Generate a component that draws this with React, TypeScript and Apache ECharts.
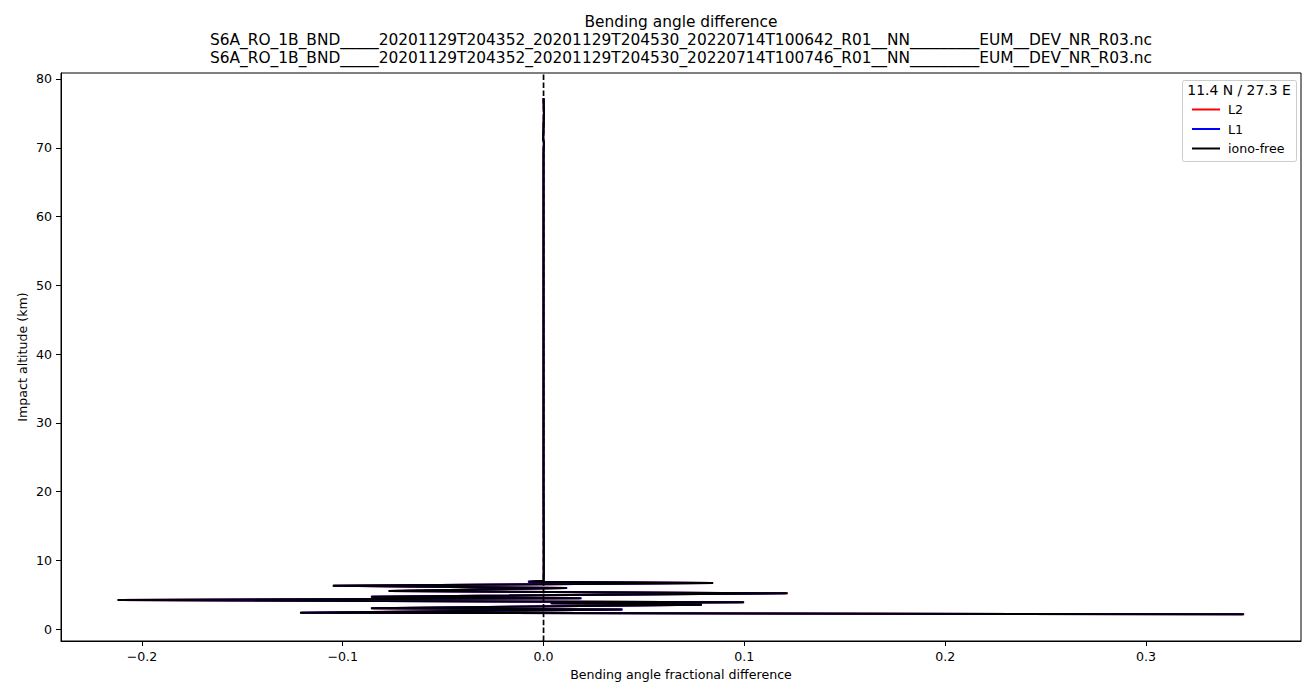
import React, { useEffect, useRef } from 'react';
import * as echarts from 'echarts';

const titleLines = [
  'Bending angle difference',
  'S6A_RO_1B_BND_____20201129T204352_20201129T204530_20220714T100642_R01__NN_________EUM__DEV_NR_R03.nc',
  'S6A_RO_1B_BND_____20201129T204352_20201129T204530_20220714T100746_R01__NN_________EUM__DEV_NR_R03.nc',
];
const legendTitle = '11.4 N / 27.3 E';
const seriesNames = ['L2', 'L1', 'iono-free'];
const seriesColors = ['#ff0000', '#0000ff', '#000000'];
const xTicks = [-0.2, -0.1, 0.0, 0.1, 0.2, 0.3];
const yTicks = [0, 10, 20, 30, 40, 50, 60, 70, 80];
const xLimits = [-0.2403, 0.3772];
const yLimits = [-1.7, 80.87];

const altitude = [77.2, 75.1, 73.0, 71.2, 70.8, 69.3, 60.0, 50.0, 40.0, 30.0, 20.0, 12.0, 8.0, 7.05, 6.92, 6.73, 6.34, 6.0, 5.57, 5.23, 4.74, 4.51, 4.26, 3.92, 3.78, 3.58, 3.05, 2.88, 2.41, 2.18];
const diffL2 = [0.0, 0.0002, 0.0, -0.0002, 0.0002, 0.0, 0.0, 0.0, 0.0, 0.0, 0.0, 0.0001, 0.0001, 0.0, -0.0074, 0.0843, -0.1048, 0.0112, -0.0771, 0.1214, -0.0858, 0.0183, -0.2118, 0.0997, 0.0036, 0.0787, -0.0858, 0.0389, -0.1211, 0.3486];
const diffL1 = [0.0, 0.0002, 0.0, -0.0002, 0.0002, 0.0, 0.0, 0.0, 0.0, 0.0, 0.0, 0.0001, 0.0001, 0.0, -0.0078, 0.0838, -0.1045, 0.0118, -0.0768, 0.1208, -0.0855, 0.0190, -0.2110, 0.0992, 0.0040, 0.0782, -0.0852, 0.0395, -0.1205, 0.3480];
const diffIonoFree = [0.0, 0.0002, 0.0, -0.0002, 0.0002, 0.0, 0.0, 0.0, 0.0, 0.0, 0.0, 0.0001, 0.0001, 0.0, -0.0075, 0.0845, -0.105, 0.0113, -0.0772, 0.1216, -0.086, 0.0184, -0.2122, 0.0999, 0.0035, 0.0789, -0.086, 0.039, -0.1213, 0.3489];

const FONT = 'DejaVu Sans';
const LABEL_SIZE = 12.6;

const fmtX = (v: number) => {
  const r = Math.round(v * 10) / 10;
  return r < 0 ? '\u2212' + Math.abs(r).toFixed(1) : r.toFixed(1);
};

export default function App() {
  const ref = useRef<HTMLDivElement>(null);
  useEffect(() => {
    if (!ref.current) return;
    const chart = echarts.init(ref.current, undefined, { renderer: 'svg' });
    const seriesData = [diffL2, diffL1, diffIonoFree];
    const lineSeries = seriesNames.map((name, i) => ({
      name,
      type: 'line',
      data: seriesData[i].map((x, k) => [x, altitude[k]]),
      symbol: 'none',
      showSymbol: false,
      lineStyle: { color: seriesColors[i], width: 2 },
      itemStyle: { color: seriesColors[i] },
      z: 2 + i,
      silent: true,
    }));
    const option: any = {
      animation: false,
      backgroundColor: '#ffffff',
      textStyle: { fontFamily: FONT },
      title: {
        text: titleLines.join('\n'),
        left: 681,
        top: 13,
        textAlign: 'center',
        padding: 0,
        textStyle: { fontFamily: FONT, fontSize: 15.4, fontWeight: 'normal', color: '#000', lineHeight: 18 },
      },
      grid: {
        left: 61,
        top: 73,
        width: 1240,
        height: 568,
        show: true,
        borderColor: '#000',
        borderWidth: 1,
        backgroundColor: 'transparent',
        containLabel: false,
        outerBoundsMode: 'none',
      },
      legend: {
        orient: 'vertical',
        left: 1192,
        top: 103,
        padding: 0,
        itemWidth: 28,
        itemHeight: 14,
        itemGap: 6.5,
        z: 20,
        data: seriesNames,
        icon: 'path://M0,6 L28,6 L28,8 L0,8 Z',
        textStyle: { fontFamily: FONT, fontSize: LABEL_SIZE, color: '#000', padding: [0, 0, 0, 3] },
        selectedMode: false,
      },
      xAxis: {
        type: 'value',
        min: xLimits[0],
        max: xLimits[1],
        name: 'Bending angle fractional difference',
        nameLocation: 'middle',
        nameGap: 27,
        nameMoveOverlap: false,
        nameTextStyle: { fontFamily: FONT, fontSize: LABEL_SIZE, color: '#000' },
        axisLine: { show: true, onZero: false, lineStyle: { color: '#000', width: 1 } },
        axisTick: { show: true, length: 5, inside: false, customValues: xTicks, lineStyle: { color: '#000' } },
        axisLabel: { show: true, margin: 9, customValues: xTicks, formatter: fmtX, fontFamily: FONT, fontSize: LABEL_SIZE, color: '#000' },
        splitLine: { show: false },
      },
      yAxis: {
        type: 'value',
        min: yLimits[0],
        max: yLimits[1],
        name: 'Impact altitude (km)',
        nameLocation: 'middle',
        nameGap: 32,
        nameRotate: 90,
        nameMoveOverlap: false,
        nameTextStyle: { fontFamily: FONT, fontSize: LABEL_SIZE, color: '#000' },
        axisLine: { show: true, onZero: false, lineStyle: { color: '#000', width: 1 } },
        axisTick: { show: true, length: 5, inside: false, customValues: yTicks, lineStyle: { color: '#000' } },
        axisLabel: { show: true, margin: 9, customValues: yTicks, formatter: (v: number) => String(Math.round(v)), fontFamily: FONT, fontSize: LABEL_SIZE, color: '#000' },
        splitLine: { show: false },
      },
      graphic: [
        {
          type: 'rect',
          shape: { x: 1182.5, y: 80.5, width: 114, height: 81, r: 2 },
          style: { fill: 'rgba(255,255,255,0.8)', stroke: '#cccccc', lineWidth: 1 },
          z: 1,
          silent: true,
        },
        {
          type: 'text',
          x: 1239,
          y: 90,
          style: { text: legendTitle, font: `13.9px "${FONT}"`, fill: '#000', align: 'center', verticalAlign: 'middle' },
          z: 2,
          silent: true,
        },
      ],
      series: [
        ...lineSeries,
        {
          name: 'zero',
          type: 'line',
          data: [[0, yLimits[0]], [0, yLimits[1]]],
          symbol: 'none',
          showSymbol: false,
          lineStyle: { color: '#000', width: 1.7, type: [5.5, 2.4] },
          z: 6,
          silent: true,
        },
      ],
    };
    chart.setOption(option);
    return () => chart.dispose();
  }, []);
  return <div ref={ref} style={{ position: 'fixed', left: 0, top: 0, width: 1316, height: 697 }} />;
}
